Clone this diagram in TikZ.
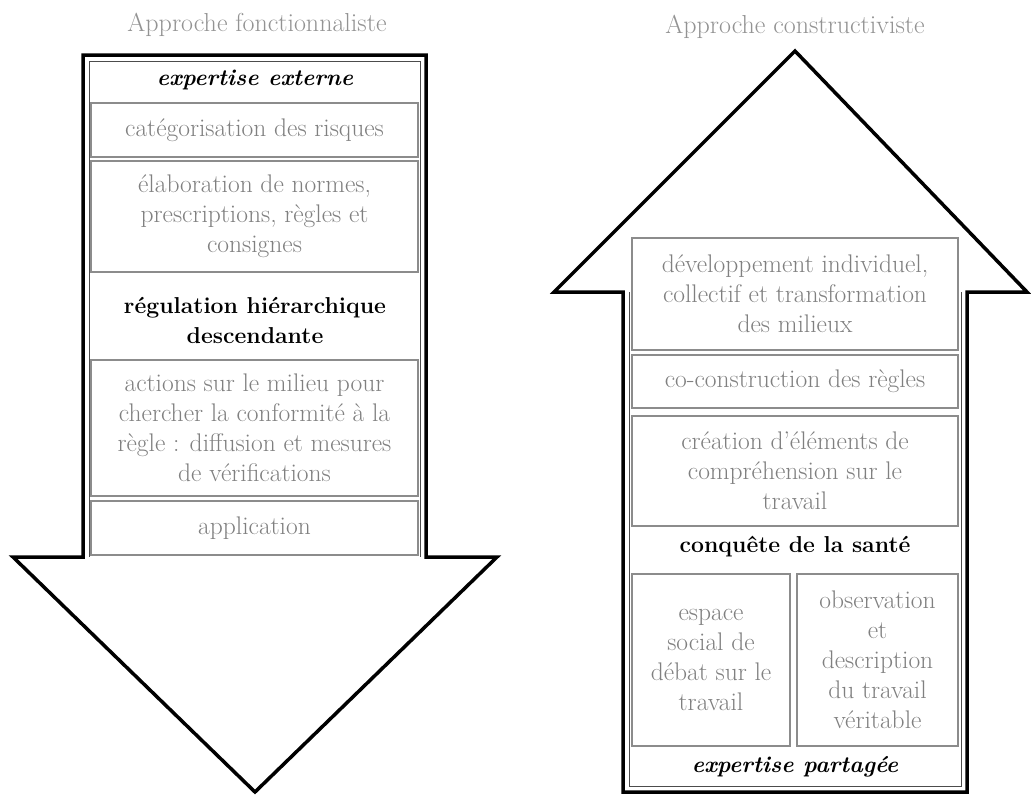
\documentclass[tikz,border=0pt]{standalone}
\usepackage{fontspec}
\definecolor{txtgray}{HTML}{808080}
\definecolor{boxgray}{HTML}{8C8C8C}
\begin{document}
\begin{tikzpicture}[x=1pt,y=-1pt,
  outline/.style={draw=black,line width=3.5pt,line join=miter},
  innerline/.style={draw=black!70,line width=1pt},
  itembox/.style={draw=boxgray,line width=1.3pt,text=txtgray,align=center,inner sep=0pt,
     font=\fontsize{25.5}{30}\selectfont},
  heading/.style={text=black,align=center,inner sep=0pt,font=\fontsize{23}{30}\selectfont\bfseries},
  title/.style={text=txtgray!85,inner sep=0pt,font=\fontsize{26}{30}\selectfont}]
\useasboundingbox[fill=white] (0,0) rectangle (1031,796);
% left arrow (down)
\draw[outline] (83,55) -- (426,55) -- (426,557) -- (497,557) -- (255,792) -- (13,557) -- (83,557) -- cycle;
\draw[innerline] (89,557) -- (89,61) -- (420,61) -- (420,557);
\node[title] (t1) at (257,25) {Approche fonctionnaliste};
\node[heading] (h1) at (255,80) {\itshape expertise externe};
\node[itembox,minimum width=327,minimum height=54] (l1) at (254.5,130) {catégorisation des risques};
\node[itembox,minimum width=327,minimum height=111] (l2) at (254.5,216.5) {élaboration de normes,\\prescriptions, règles et\\consignes};
\node[heading] (h2) at (255,320) {régulation hiérarchique\\descendante};
\node[itembox,minimum width=327,minimum height=136] (l3) at (254.5,428) {actions sur le milieu pour\\chercher la conformité à la\\règle : diffusion et mesures\\de vérifications};
\node[itembox,minimum width=327,minimum height=54] (l4) at (254.5,528) {application};
% right arrow (up)
\draw[outline] (795,51) -- (1027,292) -- (967,292) -- (967,792) -- (623,792) -- (623,292) -- (554,292) -- cycle;
\draw[innerline] (629,292) -- (629,786) -- (961,786) -- (961,292);
\node[title] (t2) at (795,27) {Approche constructiviste};
\node[itembox,minimum width=326,minimum height=112] (r1) at (795,294) {développement individuel,\\collectif et transformation\\des milieux};
\node[itembox,minimum width=326,minimum height=53] (r2) at (795,381.5) {co-construction des règles};
\node[itembox,minimum width=326,minimum height=110] (r3) at (795,471) {création d’éléments de\\compréhension sur le\\travail};
\node[heading] (h3) at (795,547) {conquête de la santé};
\node[itembox,minimum width=158,minimum height=172] (r4) at (711,660) {espace\\social de\\débat sur le\\travail};
\node[itembox,minimum width=161,minimum height=172] (r5) at (877.5,660) {observation\\et\\description\\du travail\\véritable};
\node[heading] (h4) at (795,767) {\itshape expertise partagée};
\end{tikzpicture}
\end{document}
